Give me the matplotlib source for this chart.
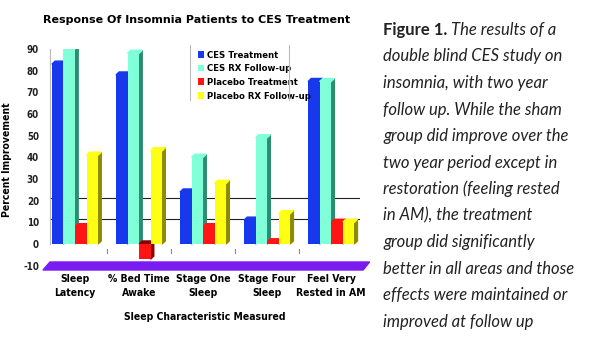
import matplotlib
matplotlib.use("Agg")
import matplotlib.pyplot as plt
from matplotlib import font_manager
from matplotlib.patches import Polygon
from matplotlib.lines import Line2D
import numpy as np

# data
categories = ["Sleep\nLatency", "% Bed Time\nAwake", "Stage One\nSleep",
              "Stage Four\nSleep", "Feel Very\nRested in AM"]
series_names = ["CES Treatment", "CES RX Follow-up",
                "Placebo Treatment", "Placebo RX Follow-up"]
ces_treatment = [83, 78, 24, 11, 75]
ces_followup = [90, 88, 40, 49, 75]
placebo_treatment = [8, -7, 8, 1, 10]
placebo_followup = [41, 43, 28, 14, 10]
y_ticks = [-10, 0, 10, 20, 30, 40, 50, 60, 70, 80, 90]

caption_lines = [
    "double blind CES study on",
    "insomnia, with two year",
    "follow up. While the sham",
    "group did improve over the",
    "two year period except in",
    "restoration (feeling rested",
    "in AM), the treatment",
    "group did significantly",
    "better in all areas and those",
    "effects were maintained or",
    "improved at follow up",
]

face_colors = ["#1838ec", "#80ffd8", "#ff1414", "#ffff14"]
side_colors = ["#0a1c80", "#2e8c72", "#8a0000", "#8c8c00"]


def narrow(size):
    return font_manager.FontProperties(family="DejaVu Sans", stretch="condensed",
                                       weight="bold", size=size)


fig = plt.figure(figsize=(6, 3.5), dpi=100)
ax = fig.add_axes([50 / 600, 1 - 270 / 350, 310 / 600, 221 / 350])

x = np.arange(len(categories))
width = 0.18
dx, dy = 0.05, 1.4  # fake 3d depth

# back wall grid lines
for g in (10, 20):
    ax.axhline(g + dy, color="#222222", lw=0.8, zorder=1)

all_series = [ces_treatment, ces_followup, placebo_treatment, placebo_followup]
for i, vals in enumerate(all_series):
    pos = x + (i - 1.5) * width
    bars = ax.bar(pos, vals, width, color=face_colors[i], edgecolor="none",
                  zorder=3, label=series_names[i])
    for b, v in zip(bars, vals):
        x0 = b.get_x()
        x1 = x0 + b.get_width()
        lo, hi = min(0, v), max(0, v)
        side = Polygon([(x1, lo), (x1 + dx, lo + dy), (x1 + dx, hi + dy), (x1, hi)],
                       closed=True, color=side_colors[i], zorder=2.9)
        lid = Polygon([(x0, hi), (x0 + dx, hi + dy), (x1 + dx, hi + dy), (x1, hi)],
                      closed=True, color=side_colors[i] if v < 0 else face_colors[i],
                      zorder=2.95)
        ax.add_patch(side)
        ax.add_patch(lid)

# purple floor strip
floor = Polygon([(-0.5, -12), (4.5, -12), (4.6, -8.3), (-0.39, -8.3)],
                closed=True, color="#7a1cf0", zorder=2, clip_on=False)
ax.add_patch(floor)

# small separators on the floor
for s in x[:-1] + 0.5:
    ax.plot([s, s], [-2.5, -4], color="#888888", lw=0.8, zorder=2)

ax.set_xlim(-0.39, 4.45)
ax.set_ylim(-12, 90)
ax.set_yticks(y_ticks)
ax.set_yticklabels([str(t) for t in y_ticks], fontproperties=narrow(7),
                   color="#222222")
ax.set_xticks(x)
ax.set_xticklabels(categories, fontproperties=narrow(7.5), linespacing=1.5)
ax.tick_params(axis="both", length=0)
ax.tick_params(axis="y", pad=8)
ax.tick_params(axis="x", pad=3)
for sp in ["top", "right", "bottom"]:
    ax.spines[sp].set_visible(False)
ax.spines["left"].set_color("#bbbbbb")
ax.spines["left"].set_bounds(0, 90)

ax.set_ylabel("Percent Improvement", fontproperties=narrow(7.5), labelpad=8)
ax.set_xlabel("Sleep Characteristic Measured", fontproperties=narrow(7.5),
              labelpad=10)

fig.text(197 / 600, 1 - 20 / 350, "Response Of Insomnia Patients to CES Treatment",
         ha="center", va="center", fontsize=8, fontweight="heavy",
         family="DejaVu Sans")

leg = ax.legend(loc="upper left", bbox_to_anchor=(190 / 600, 1 - 43 / 350),
                bbox_transform=fig.transFigure, frameon=False,
                handlelength=0.7, handleheight=0.7, handletextpad=0.3,
                labelspacing=0.5, borderpad=0.3,
                prop=narrow(6.8))
# legend frame: only two grey vertical rules, like the original
for lx in (190 / 600, 289 / 600):
    fig.add_artist(Line2D([lx, lx], [1 - 45 / 350, 1 - 100 / 350],
                          color="#bbbbbb", lw=0.8))

# caption on the right
cx = 383 / 600
line_h = 26.5 / 350
y0 = 1 - 30 / 350
t1 = fig.text(cx, y0, "Figure 1.", fontsize=12, fontweight="bold",
              family="Lato", color="#222222", va="center")
fig.canvas.draw()
bb = t1.get_window_extent(renderer=fig.canvas.get_renderer())
fig.text(bb.x1 / 600 + 4 / 600, y0, "The results of a", fontsize=12,
         style="italic", family="Lato", color="#222222", va="center")
for k, line in enumerate(caption_lines):
    fig.text(cx, y0 - (k + 1) * line_h, line, fontsize=12, style="italic",
             family="Lato", color="#222222", va="center")

fig.savefig("out.png", dpi=100)
